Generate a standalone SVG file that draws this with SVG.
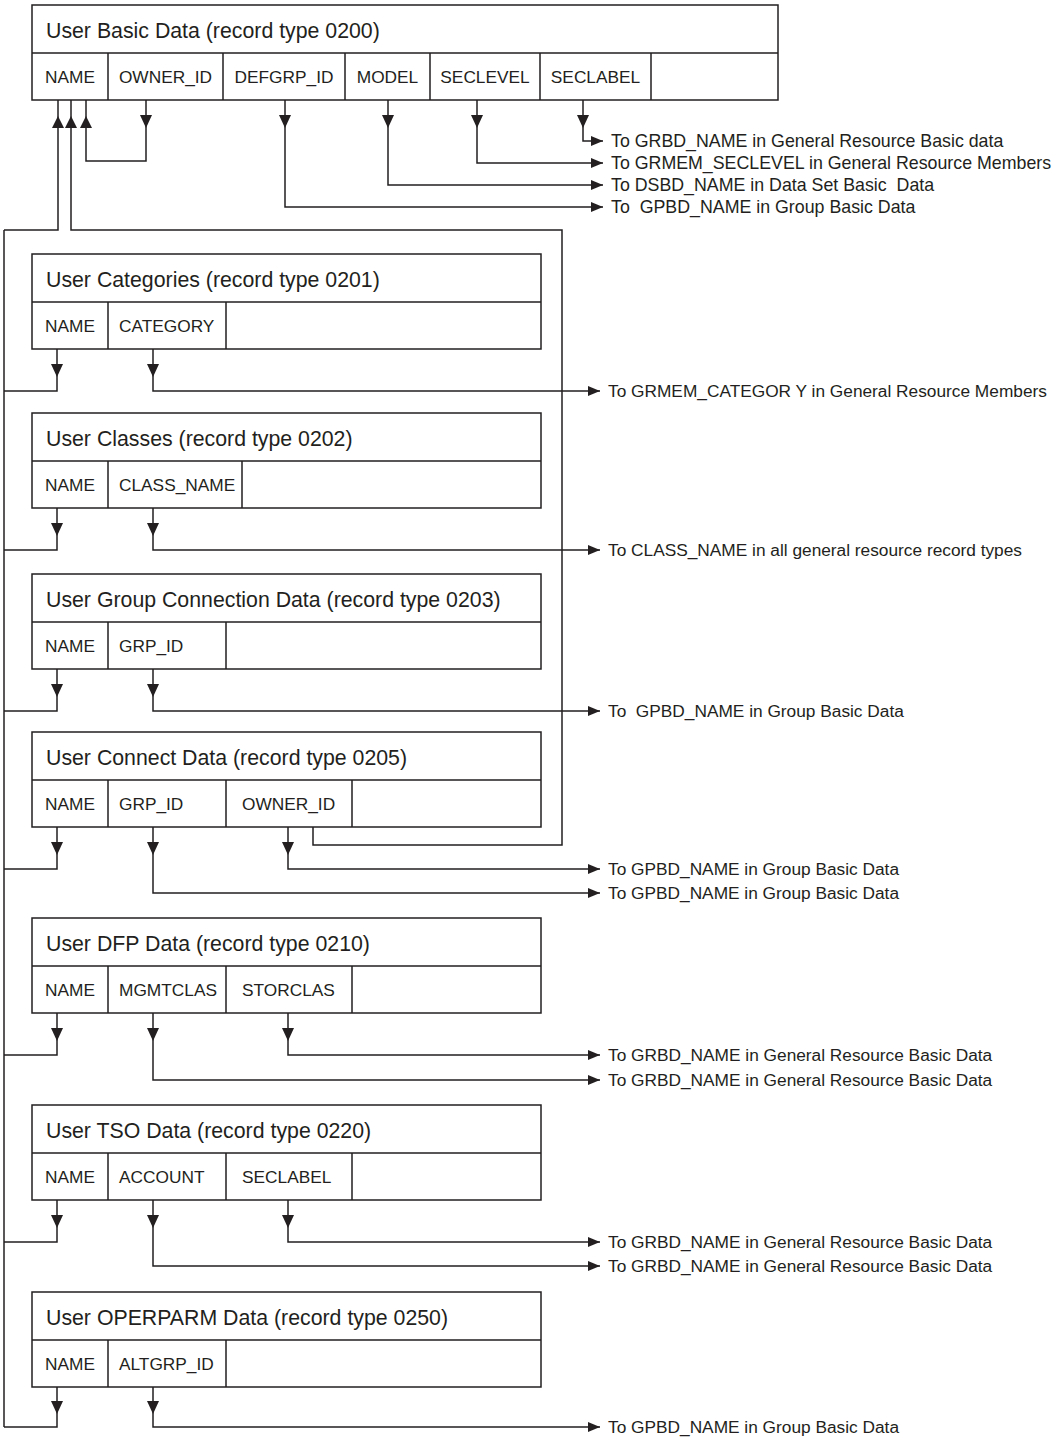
<svg xmlns="http://www.w3.org/2000/svg" xmlns:xlink="http://www.w3.org/1999/xlink" width="1058" height="1437" viewBox="0 0 1058 1437">
<style>
  .box { fill: #fff; stroke: #231f20; stroke-width: 1.5; }
  .div { stroke: #231f20; stroke-width: 1.5; fill: none; }
  .hdr { font-family: "Liberation Sans", Arial, sans-serif; font-size: 21.3px; fill: #231f20; }
  .fld { font-family: "Liberation Sans", Arial, sans-serif; font-size: 17.3px; fill: #231f20; }
  .mid { text-anchor: middle; }
  .lbl { font-family: "Liberation Sans", Arial, sans-serif; font-size: 17.3px; fill: #231f20; white-space: pre; }
  .lbt { font-size: 17.8px; }
  .con { stroke: #231f20; stroke-width: 1.5; fill: none; }
  .arr { fill: #231f20; }
</style>
<defs>
  <marker id="ah" markerUnits="userSpaceOnUse" markerWidth="12" markerHeight="10" refX="12" refY="5" orient="auto">
    <path d="M0,0 L12,5 L0,10 Z" fill="#231f20"/>
  </marker>
  <path id="dn" d="M-6,0 L6,0 L0,13 Z"/>
  <path id="up" d="M-6,0 L6,0 L0,-12 Z"/>
</defs>
<rect width="1058" height="1437" fill="#fff"/>

<g id="connectors">
  <path class="con" d="M4,230 V1427"/>
  <path class="con" d="M58,100 V230 H4"/>
  <path class="con" d="M71,100 V230 H562 V845 H313 V827"/>
  <path class="con" d="M146,100 V161 H86 V100"/>
  <path class="con" marker-end="url(#ah)" d="M285,100 V207 H603"/>
  <path class="con" marker-end="url(#ah)" d="M388,100 V185 H603"/>
  <path class="con" marker-end="url(#ah)" d="M477,100 V163 H603"/>
  <path class="con" marker-end="url(#ah)" d="M583,100 V141 H603"/>
  <g class="arr">
    <use xlink:href="#up" x="58" y="128"/>
    <use xlink:href="#up" x="71" y="128"/>
    <use xlink:href="#up" x="86" y="128"/>
    <use xlink:href="#dn" x="146" y="115"/>
    <use xlink:href="#dn" x="285" y="115"/>
    <use xlink:href="#dn" x="388" y="115"/>
    <use xlink:href="#dn" x="477" y="115"/>
    <use xlink:href="#dn" x="583" y="115"/>
  </g>
  <!-- 0201 -->
  <path class="con" d="M57,349 V391 H4"/>
  <path class="con" marker-end="url(#ah)" d="M153,349 V391 H600"/>
  <!-- 0202 -->
  <path class="con" d="M57,508 V550 H4"/>
  <path class="con" marker-end="url(#ah)" d="M153,508 V550 H600"/>
  <!-- 0203 -->
  <path class="con" d="M57,669 V711 H4"/>
  <path class="con" marker-end="url(#ah)" d="M153,669 V711 H600"/>
  <!-- 0205 -->
  <path class="con" d="M57,827 V869 H4"/>
  <path class="con" marker-end="url(#ah)" d="M288,827 V869 H600"/>
  <path class="con" marker-end="url(#ah)" d="M153,827 V893 H600"/>
  <!-- 0210 -->
  <path class="con" d="M57,1013 V1055 H4"/>
  <path class="con" marker-end="url(#ah)" d="M288,1013 V1055 H600"/>
  <path class="con" marker-end="url(#ah)" d="M153,1013 V1080 H600"/>
  <!-- 0220 -->
  <path class="con" d="M57,1200 V1242 H4"/>
  <path class="con" marker-end="url(#ah)" d="M288,1200 V1242 H600"/>
  <path class="con" marker-end="url(#ah)" d="M153,1200 V1266 H600"/>
  <!-- 0250 -->
  <path class="con" d="M57,1387 V1427 H4"/>
  <path class="con" marker-end="url(#ah)" d="M153,1387 V1427 H600"/>
  <g class="arr">
    <use xlink:href="#dn" x="57" y="364"/>
    <use xlink:href="#dn" x="153" y="364"/>
    <use xlink:href="#dn" x="57" y="523"/>
    <use xlink:href="#dn" x="153" y="523"/>
    <use xlink:href="#dn" x="57" y="684"/>
    <use xlink:href="#dn" x="153" y="684"/>
    <use xlink:href="#dn" x="57" y="842"/>
    <use xlink:href="#dn" x="153" y="842"/>
    <use xlink:href="#dn" x="288" y="842"/>
    <use xlink:href="#dn" x="57" y="1028"/>
    <use xlink:href="#dn" x="153" y="1028"/>
    <use xlink:href="#dn" x="288" y="1028"/>
    <use xlink:href="#dn" x="57" y="1215"/>
    <use xlink:href="#dn" x="153" y="1215"/>
    <use xlink:href="#dn" x="288" y="1215"/>
    <use xlink:href="#dn" x="57" y="1401"/>
    <use xlink:href="#dn" x="153" y="1401"/>
  </g>
  <!-- labels -->
  <text class="lbl lbt" x="611" y="147">To GRBD_NAME in General Resource Basic data</text>
  <text class="lbl lbt" x="611" y="169">To GRMEM_SECLEVEL in General Resource Members</text>
  <text class="lbl lbt" x="611" y="191">To DSBD_NAME in Data Set Basic  Data</text>
  <text class="lbl lbt" x="611" y="213">To  GPBD_NAME in Group Basic Data</text>
  <text class="lbl" x="608" y="397">To GRMEM_CATEGOR Y in General Resource Members</text>
  <text class="lbl" x="608" y="556">To CLASS_NAME in all general resource record types</text>
  <text class="lbl" x="608" y="717">To  GPBD_NAME in Group Basic Data</text>
  <text class="lbl" x="608" y="875">To GPBD_NAME in Group Basic Data</text>
  <text class="lbl" x="608" y="899">To GPBD_NAME in Group Basic Data</text>
  <text class="lbl" x="608" y="1061">To GRBD_NAME in General Resource Basic Data</text>
  <text class="lbl" x="608" y="1086">To GRBD_NAME in General Resource Basic Data</text>
  <text class="lbl" x="608" y="1248">To GRBD_NAME in General Resource Basic Data</text>
  <text class="lbl" x="608" y="1272">To GRBD_NAME in General Resource Basic Data</text>
  <text class="lbl" x="608" y="1433">To GPBD_NAME in Group Basic Data</text>
</g>

<g id="user-basic-data">
  <rect class="box" x="32" y="5" width="746" height="95"/>
  <path class="div" d="M32,53 H778 M108,53 V100 M223,53 V100 M345,53 V100 M430,53 V100 M540,53 V100 M651,53 V100"/>
  <text class="hdr" x="46" y="38">User Basic Data (record type 0200)</text>
  <text class="fld mid" x="70" y="83">NAME</text>
  <text class="fld mid" x="165.5" y="83">OWNER_ID</text>
  <text class="fld mid" x="284" y="83">DEFGRP_ID</text>
  <text class="fld mid" x="387.5" y="83">MODEL</text>
  <text class="fld mid" x="485" y="83">SECLEVEL</text>
  <text class="fld mid" x="595.5" y="83">SECLABEL</text>
</g>

<g id="user-categories">
  <rect class="box" x="32" y="254" width="509" height="95"/>
  <path class="div" d="M32,302 H541 M108,302 V349 M226,302 V349"/>
  <text class="hdr" x="46" y="287">User Categories (record type 0201)</text>
  <text class="fld mid" x="70" y="332">NAME</text>
  <text class="fld" x="119" y="332">CATEGORY</text>
</g>

<g id="user-classes">
  <rect class="box" x="32" y="413" width="509" height="95"/>
  <path class="div" d="M32,461 H541 M108,461 V508 M242,461 V508"/>
  <text class="hdr" x="46" y="446">User Classes (record type 0202)</text>
  <text class="fld mid" x="70" y="491">NAME</text>
  <text class="fld" x="119" y="491">CLASS_NAME</text>
</g>

<g id="user-group-connection-data">
  <rect class="box" x="32" y="574" width="509" height="95"/>
  <path class="div" d="M32,622 H541 M108,622 V669 M226,622 V669"/>
  <text class="hdr" x="46" y="607">User Group Connection Data (record type 0203)</text>
  <text class="fld mid" x="70" y="652">NAME</text>
  <text class="fld" x="119" y="652">GRP_ID</text>
</g>

<g id="user-connect-data">
  <rect class="box" x="32" y="732" width="509" height="95"/>
  <path class="div" d="M32,780 H541 M108,780 V827 M226,780 V827 M352,780 V827"/>
  <text class="hdr" x="46" y="765">User Connect Data (record type 0205)</text>
  <text class="fld mid" x="70" y="810">NAME</text>
  <text class="fld" x="119" y="810">GRP_ID</text>
  <text class="fld" x="242" y="810">OWNER_ID</text>
</g>

<g id="user-dfp-data">
  <rect class="box" x="32" y="918" width="509" height="95"/>
  <path class="div" d="M32,966 H541 M108,966 V1013 M226,966 V1013 M352,966 V1013"/>
  <text class="hdr" x="46" y="951">User DFP Data (record type 0210)</text>
  <text class="fld mid" x="70" y="996">NAME</text>
  <text class="fld" x="119" y="996">MGMTCLAS</text>
  <text class="fld" x="242" y="996">STORCLAS</text>
</g>

<g id="user-tso-data">
  <rect class="box" x="32" y="1105" width="509" height="95"/>
  <path class="div" d="M32,1153 H541 M108,1153 V1200 M226,1153 V1200 M352,1153 V1200"/>
  <text class="hdr" x="46" y="1138">User TSO Data (record type 0220)</text>
  <text class="fld mid" x="70" y="1183">NAME</text>
  <text class="fld" x="119" y="1183">ACCOUNT</text>
  <text class="fld" x="242" y="1183">SECLABEL</text>
</g>

<g id="user-operparm-data">
  <rect class="box" x="32" y="1292" width="509" height="95"/>
  <path class="div" d="M32,1340 H541 M108,1340 V1387 M226,1340 V1387"/>
  <text class="hdr" x="46" y="1325">User OPERPARM Data (record type 0250)</text>
  <text class="fld mid" x="70" y="1370">NAME</text>
  <text class="fld" x="119" y="1370">ALTGRP_ID</text>
</g>
</svg>
